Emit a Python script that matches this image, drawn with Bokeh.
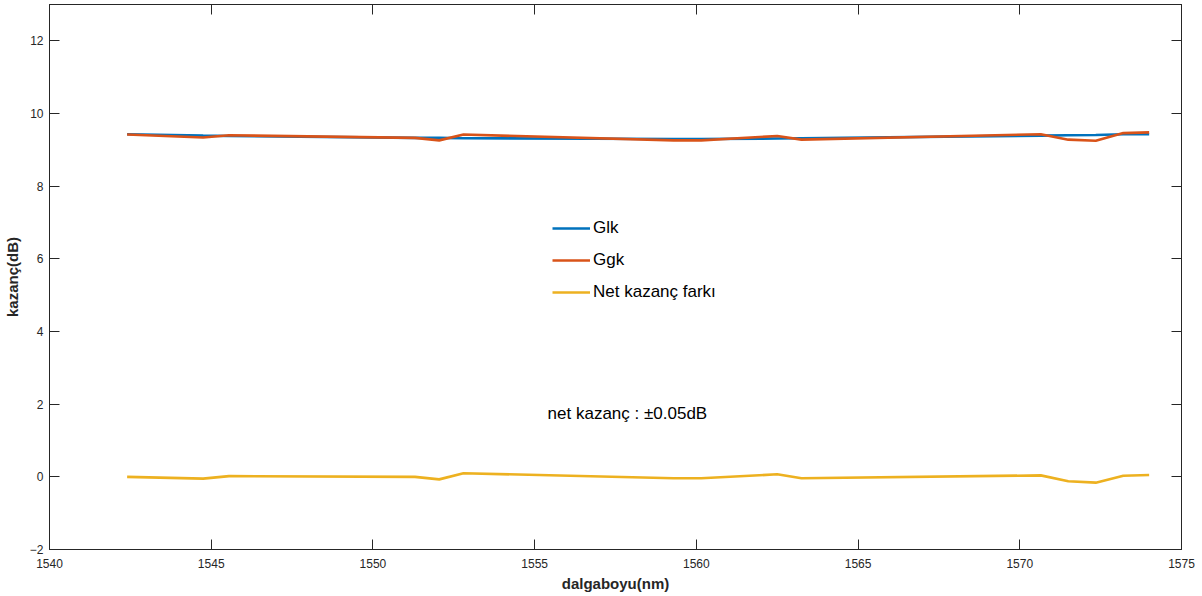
from bokeh.plotting import figure
from bokeh.models import Range1d, LinearAxis, FixedTicker, Legend, LegendItem, Label
from bokeh.embed import file_html
from bokeh.resources import INLINE

# wavelengths (nm)
wavelength = [1542.4, 1544.75, 1545.55, 1551.3, 1552.05, 1552.8, 1559.3, 1560.15,
              1562.5, 1563.25, 1570.65, 1571.5, 1572.35, 1573.2, 1574.0]
glk = [9.43, 9.39, 9.38, 9.33, 9.33, 9.32, 9.30, 9.30, 9.31, 9.32, 9.39, 9.40, 9.41, 9.43, 9.43]
ggk = [9.42, 9.34, 9.40, 9.33, 9.26, 9.42, 9.26, 9.26, 9.38, 9.28, 9.43, 9.28, 9.25, 9.46, 9.48]
net = [0.00, -0.05, 0.02, 0.00, -0.07, 0.10, -0.04, -0.04, 0.07, -0.04, 0.04, -0.12, -0.16, 0.03, 0.05]

series_names = ["Glk", "Ggk", "Net kazanç farkı"]
colors = ["#0072BD", "#D95319", "#EDB120"]
x_ticks = [1540, 1545, 1550, 1555, 1560, 1565, 1570, 1575]
y_ticks = [-2, 0, 2, 4, 6, 8, 10, 12]

FONT = "Liberation Sans"
AX = "#262626"

p = figure(width=1200, height=594, output_backend="svg", toolbar_location=None,
           x_range=Range1d(1540, 1575), y_range=Range1d(-2, 13),
           min_border_left=48, min_border_right=19, min_border_top=4, min_border_bottom=45)
p.grid.visible = False
p.outline_line_color = AX
p.background_fill_color = "white"
p.border_fill_color = "white"

renderers = []
for ys, c in zip([glk, ggk, net], colors):
    r = p.line(wavelength, ys, line_color=c, line_width=2.6)
    renderers.append(r)

def style_axis(ax, ticks, show_labels=True):
    ax.ticker = FixedTicker(ticks=ticks)
    ax.major_tick_in = 10
    ax.major_tick_out = 0
    ax.minor_tick_line_color = None
    ax.axis_line_color = AX
    ax.major_tick_line_color = AX
    ax.major_label_text_font = FONT
    if show_labels:
        ax.major_label_text_font_size = "12px"
        ax.major_label_text_color = AX
    else:
        ax.major_label_text_font_size = "1px"
        ax.major_label_text_color = None
        ax.major_label_standoff = 0

xa = p.xaxis[0]
style_axis(xa, x_ticks)
xa.major_label_standoff = 9
xa.axis_label = "dalgaboyu(nm)"
xa.axis_label_text_font = FONT
xa.axis_label_text_font_style = "bold"
xa.axis_label_text_font_size = "15px"
xa.axis_label_text_color = AX
xa.axis_label_standoff = 4

ya = p.yaxis[0]
style_axis(ya, y_ticks)
ya.major_label_standoff = 6
ya.axis_label = "kazanç(dB)"
ya.axis_label_text_font = FONT
ya.axis_label_text_font_style = "bold"
ya.axis_label_text_font_size = "15px"
ya.axis_label_text_color = AX
ya.axis_label_standoff = 6

top = LinearAxis()
style_axis(top, x_ticks, show_labels=False)
p.add_layout(top, "above")
right = LinearAxis()
style_axis(right, y_ticks, show_labels=False)
p.add_layout(right, "right")

legend = Legend(items=[LegendItem(label=n, renderers=[r]) for n, r in zip(series_names, renderers)],
                location=(503, 247), border_line_color=None, background_fill_alpha=0,
                label_text_font=FONT, label_text_font_size="17px", label_text_color="black",
                glyph_width=38, glyph_height=20, label_height=20, spacing=12,
                label_standoff=3, padding=0, margin=0)
p.add_layout(legend, "center")

p.add_layout(Label(x=1555.4, y=1.75, text="net kazanç : ±0.05dB", text_font=FONT,
                   text_font_size="17px", text_color="black", text_baseline="middle"))

open("out.html", "w").write(file_html(p, INLINE))
